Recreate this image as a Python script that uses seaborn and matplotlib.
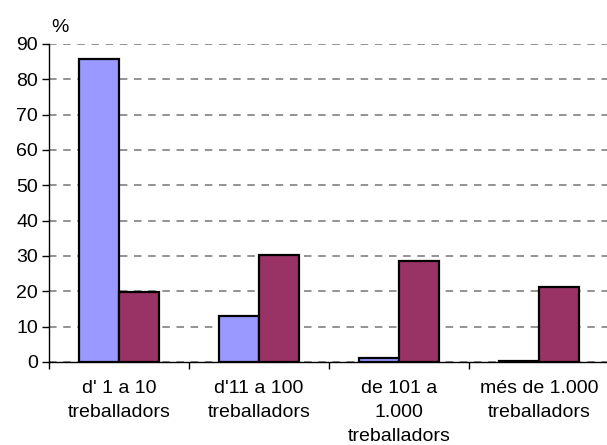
import numpy as np
import pandas as pd
import matplotlib.pyplot as plt
import seaborn as sns

categories = ["d' 1 a 10\ntreballadors", "d'11 a 100\ntreballadors",
              "de 101 a\n1.000\ntreballadors", "més de 1.000\ntreballadors"]
series_names = ["A", "B"]
values_a = [85.7, 13.0, 1.2, 0.2]
values_b = [19.8, 30.2, 28.5, 21.3]
yticks = [0, 10, 20, 30, 40, 50, 60, 70, 80, 90]

df = pd.DataFrame({
    "cat": categories * 2,
    "serie": [series_names[0]] * 4 + [series_names[1]] * 4,
    "val": values_a + values_b,
})

sns.set_style("white")
plt.rcParams["font.family"] = ["Liberation Sans", "DejaVu Sans"]
plt.rcParams["text.color"] = "black"
plt.rcParams["xtick.color"] = "black"
plt.rcParams["ytick.color"] = "black"

fig = plt.figure(figsize=(6.07, 4.45), dpi=100)
ax = fig.add_axes([49 / 607, 83 / 445, 560 / 607, 318 / 445])

sns.barplot(data=df, x="cat", y="val", hue="serie", order=categories,
            palette=["#9999FF", "#993366"], saturation=1, width=0.57, gap=0,
            edgecolor="black", linewidth=1.6, legend=False, ax=ax, zorder=3)

ax.set_xlim(-0.5, 3.5)
ax.set_ylim(0, 90)
ax.set_yticks(yticks)
ax.yaxis.grid(True, linestyle=(0, (4.5, 4)), color="#808080", linewidth=1.2, zorder=0)
ax.set_axisbelow(True)

# tick marks at category boundaries, labels centred
ax.set_xticks(range(len(categories)))
ax.set_xticklabels(categories, fontsize=14, linespacing=1.55)
ax.set_xticks([-0.5, 0.5, 1.5, 2.5], minor=True)
ax.tick_params(axis="x", which="major", length=0, pad=13)
ax.tick_params(axis="x", which="minor", bottom=True, length=5, width=1,
               color="black", direction="out")
ax.tick_params(axis="y", left=True, length=5, width=1, color="black",
               direction="out", labelsize=14, pad=3)

for s in ["top", "right"]:
    ax.spines[s].set_visible(False)
for s in ["left", "bottom"]:
    ax.spines[s].set_color("black")
    ax.spines[s].set_linewidth(1)

ax.set_xlabel("")
ax.set_ylabel("")
fig.text(60 / 607, 1 - 27 / 445, "%", fontsize=14, ha="center", va="center")

fig.savefig("out.png", dpi=100)
